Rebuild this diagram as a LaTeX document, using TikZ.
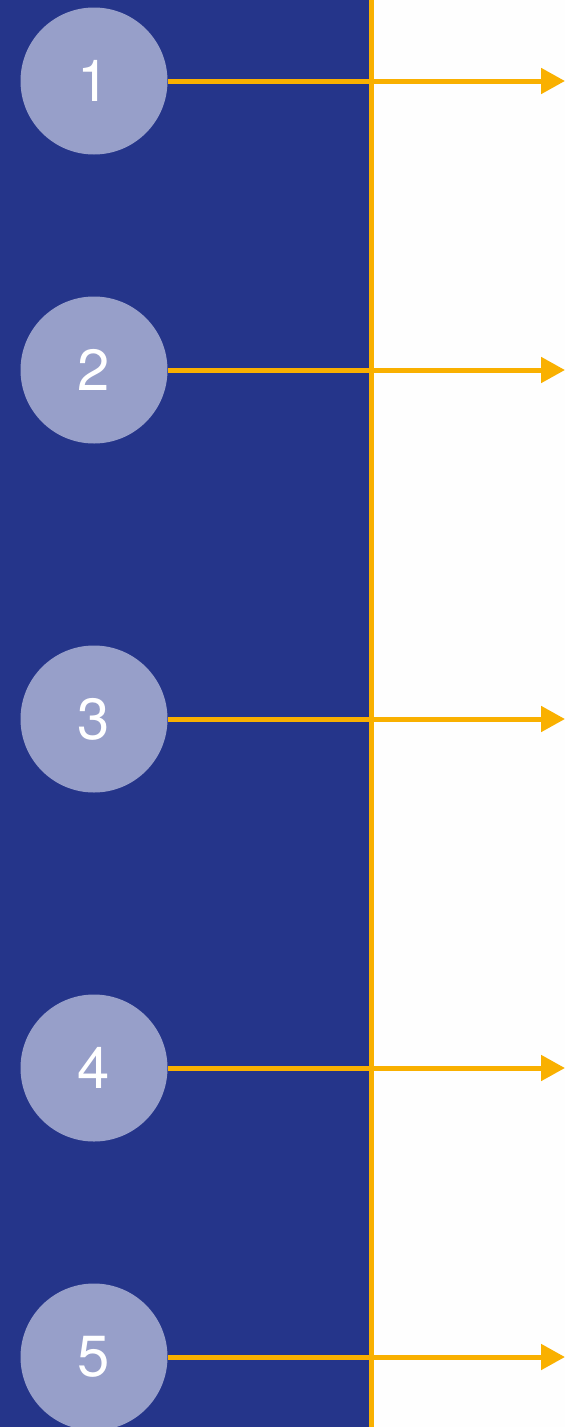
\documentclass[tikz,border=0pt]{standalone}
\usepackage{fontspec}
\setmainfont{TeX Gyre Heros}
\usetikzlibrary{arrows.meta}
\definecolor{panelblue}{HTML}{25358A}
\definecolor{circlefill}{HTML}{979FC9}
\definecolor{lineyellow}{HTML}{F9B000}
\definecolor{pagebg}{HTML}{FEFEFE}
\tikzset{
  numcircle/.style={circle, fill=circlefill, minimum size=147pt, inner sep=0pt,
    text=white, font=\fontsize{58}{60}\selectfont},
  connector/.style={draw=lineyellow, line width=5pt, -{Triangle[length=24pt,width=25pt]}},
  divider/.style={draw=lineyellow, line width=5pt}
}
\begin{document}
\begin{tikzpicture}[x=1pt,y=-1pt]
\useasboundingbox (0,0) rectangle (565,1427);
\fill[pagebg] (0,0) rectangle (565,1427);
\fill[panelblue] (0,0) rectangle (370,1427);
\coordinate (dtop) at (371.5,0);
\coordinate (dbot) at (371.5,1427);
\draw[divider] (dtop) -- (dbot);
\begin{scope}
\clip (0,0) rectangle (565,1427);
\node[numcircle] (c1) at (94,81) {1};
\node[numcircle] (c2) at (94,370) {2};
\node[numcircle] (c3) at (94,719) {3};
\node[numcircle] (c4) at (94,1068) {4};
\node[numcircle] (c5) at (94,1357) {5};
\end{scope}
\coordinate (e1) at (565,81);
\coordinate (e2) at (565,370);
\coordinate (e3) at (565,719);
\coordinate (e4) at (565,1068);
\coordinate (e5) at (565,1357);
\foreach \i in {1,...,5}{
  \draw[connector] (c\i.east) -- (e\i);
}
\end{tikzpicture}
\end{document}
